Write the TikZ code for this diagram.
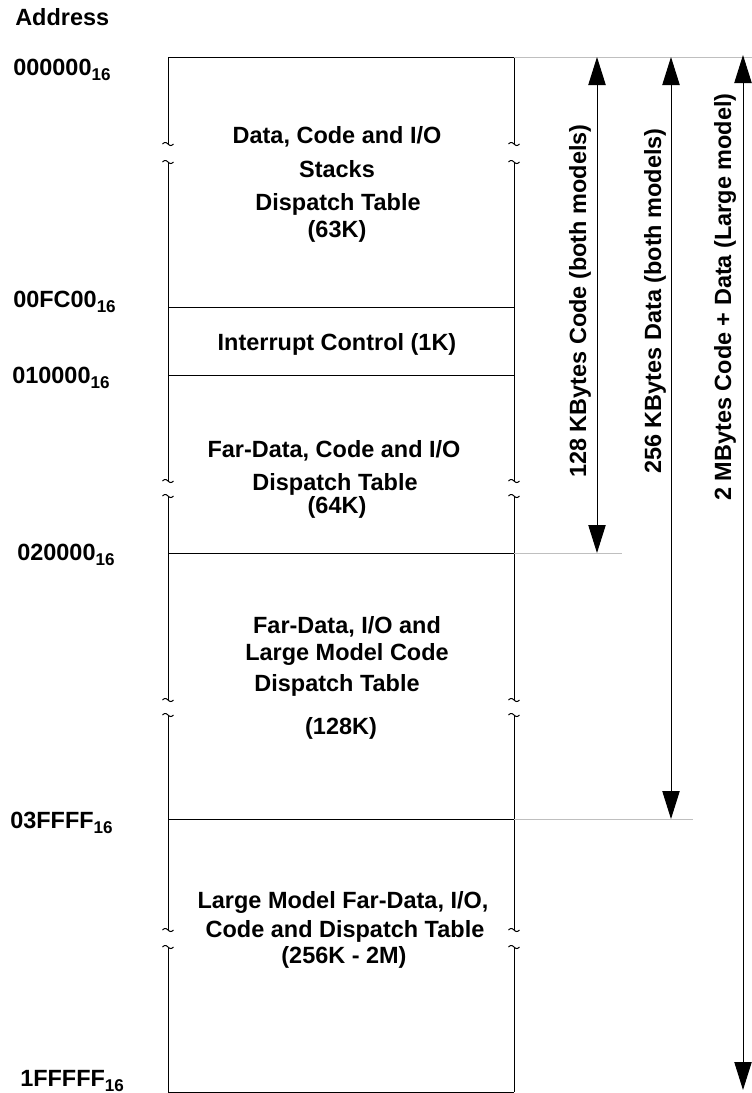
\documentclass[tikz,border=0pt]{standalone}
\usepackage{fontspec}
\setmainfont{Liberation Sans}
\usetikzlibrary{arrows.meta}
\newcommand\hexsub[1]{#1\raisebox{-4pt}{\fontsize{12.8}{13}\selectfont 16}}
\newcommand\tildebrk[2]{\draw[boxline] plot[domain=-5.5:5.5,samples=25,smooth] ({#1+\x},{#2+1.5*sin(\x*360/11)});}
\begin{document}
\begin{tikzpicture}[x=0.75pt,y=-0.75pt,
  font=\fontsize{17.6}{21}\selectfont\bfseries,
  boxline/.style={line width=0.75pt,black},
  guide/.style={line width=0.75pt,color=gray!50},
  dimarrow/.style={line width=0.75pt,black,{Triangle[length=21pt,width=13pt]}-{Triangle[length=21pt,width=13pt]}},
  addr/.style={anchor=base west,inner sep=0pt},
  region/.style={anchor=base,inner sep=0pt},
  dimlabel/.style={anchor=base,inner sep=0pt,rotate=90}]
\useasboundingbox (0,0) rectangle (752,1093);

% address labels
\node[addr] (hdr) at (15,25) {Address};
\node[addr] (ad0) at (13,75) {\hexsub{000000}};
\node[addr] (ad1) at (13,307) {\hexsub{00FC00}};
\node[addr] (ad2) at (12,383) {\hexsub{010000}};
\node[addr] (ad3) at (17,560) {\hexsub{020000}};
\node[addr] (ad4) at (10,828) {\hexsub{03FFFF}};
\node[addr] (ad5) at (20,1086) {\hexsub{1FFFFF}};

% box outline: left and right edges with break marks
\foreach \ex in {168,514}{
  \draw[boxline] (\ex,57) -- (\ex,144);
  \draw[boxline] (\ex,162) -- (\ex,481);
  \draw[boxline] (\ex,496) -- (\ex,700);
  \draw[boxline] (\ex,715) -- (\ex,930);
  \draw[boxline] (\ex,947) -- (\ex,1092);
  \foreach \by in {144,162,481,496,700,715,930,947}{
    \tildebrk{\ex}{\by}
  }
}
% horizontal lines
\foreach \hy in {57,307,375,553,819,1092}{
  \draw[boxline] (168,\hy) -- (514,\hy);
}
% gray extension lines
\draw[guide] (514,57) -- (752,57);
\draw[guide] (514,553) -- (622,553);
\draw[guide] (514,819) -- (693,819);

% region texts
\node[region] (r1a) at (337,143) {Data, Code and I/O};
\node[region] (r1b) at (337,177) {Stacks};
\node[region] (r1c) at (338,210) {Dispatch Table};
\node[region] (r1d) at (337,237) {(63K)};
\node[region] (r2a) at (337,350) {Interrupt Control (1K)};
\node[region] (r3a) at (334,457) {Far-Data, Code and I/O};
\node[region] (r3b) at (335,490) {Dispatch Table};
\node[region] (r3c) at (337,513) {(64K)};
\node[region] (r4a) at (347,633) {Far-Data, I/O and};
\node[region] (r4b) at (347,660) {Large Model Code};
\node[region] (r4c) at (337,691) {Dispatch Table};
\node[region] (r4d) at (341,734) {(128K)};
\node[region] (r5a) at (343,908) {Large Model Far-Data, I/O,};
\node[region] (r5b) at (345,937) {Code and Dispatch Table};
\node[region] (r5c) at (344,963) {(256K - 2M)};

% dimension arrows
\coordinate (a1t) at (597,57);
\coordinate (a1b) at (597,553);
\coordinate (a2t) at (671,57);
\coordinate (a2b) at (671,819);
\coordinate (a3t) at (743,55);
\coordinate (a3b) at (743,1090);
\draw[dimarrow] (a1t) -- (a1b);
\draw[dimarrow] (a2t) -- (a2b);
\draw[dimarrow] (a3t) -- (a3b);
\node[dimlabel] (l1) at (586,301) {128 KBytes Code (both models)};
\node[dimlabel] (l2) at (661,301) {256 KBytes Data (both models)};
\node[dimlabel] (l3) at (731,297) {2 MBytes Code + Data (Large model)};
\end{tikzpicture}
\end{document}
